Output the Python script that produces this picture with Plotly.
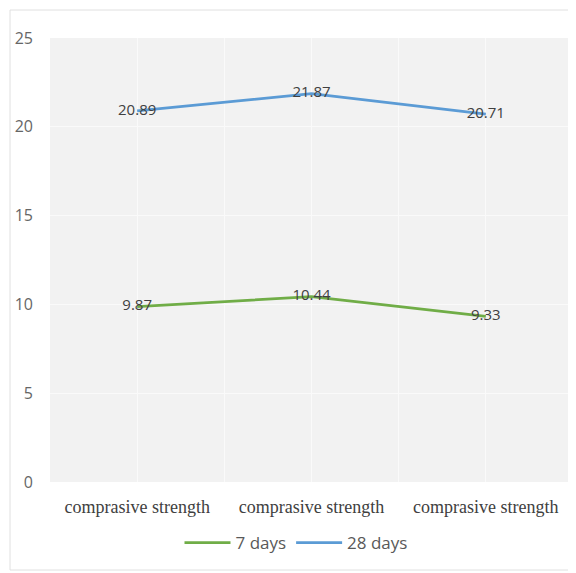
import plotly.graph_objects as go

categories = ["comprasive strength", "comprasive strength", "comprasive strength"]
days7 = [9.87, 10.44, 9.33]
days28 = [20.89, 21.87, 20.71]
y_ticks = [0, 5, 10, 15, 20, 25]

xpos = list(range(len(categories)))

fig = go.Figure()
fig.add_trace(go.Scatter(
    x=xpos, y=days7, name="7 days", mode="lines+text",
    line=dict(color="#70ad47", width=2.75),
    text=[f"{v:.2f}" for v in days7], textposition="middle center",
    textfont=dict(family="Open Sans, sans-serif", size=15, color="#404040"),
))
fig.add_trace(go.Scatter(
    x=xpos, y=days28, name="28 days", mode="lines+text",
    line=dict(color="#5b9bd5", width=2.75),
    text=[f"{v:.2f}" for v in days28], textposition="middle center",
    textfont=dict(family="Open Sans, sans-serif", size=15, color="#404040"),
))

# page body has an 8px margin, so the figure is shifted by 8px
OFF = 8
W, H = 568, 565
L = 50 - OFF
T = 38 - OFF
B = H - (482 - OFF)
R = W - (573 - OFF)
pw = W - L - R
ph = H - T - B

def py(y):
    return (ph - ((y - OFF) - T)) / ph

def px(x):
    return ((x - OFF) - L) / pw

fig.update_layout(
    width=W, height=H,
    margin=dict(l=L, r=R, t=T, b=B),
    paper_bgcolor="white",
    plot_bgcolor="#f2f2f2",
    showlegend=True,
    legend=dict(
        orientation="h", x=px(296), xanchor="center",
        y=py(543), yanchor="middle",
        font=dict(family="Open Sans, sans-serif", size=17, color="#595959"),
        itemwidth=46, traceorder="normal",
    ),
    xaxis=dict(
        range=[-0.5, len(categories) - 0.5],
        tickvals=xpos, ticktext=categories,
        tickfont=dict(family="Liberation Serif, serif", size=18, color="#404040"),
        showgrid=True, gridcolor="#fafafa", gridwidth=1,
        minor=dict(tickvals=[i - 0.5 for i in range(len(categories) + 1)],
                   showgrid=True, gridcolor="#fafafa", gridwidth=1),
        zeroline=False, showline=False, ticks="",
        ticklabelstandoff=12,
    ),
    yaxis=dict(
        range=[0, 25], tickvals=y_ticks,
        tickfont=dict(family="Open Sans, sans-serif", size=16, color="#666666"),
        showgrid=True, gridcolor="#fafafa", gridwidth=1,
        zeroline=False, showline=False, ticks="",
        ticklabelstandoff=16,
    ),
    shapes=[dict(
        type="rect", xref="paper", yref="paper",
        x0=px(10), x1=px(575),
        y0=py(570), y1=py(10),
        line=dict(color="#e0e0e0", width=1), fillcolor="rgba(0,0,0,0)",
        layer="below",
    )],
)

fig.write_html("out.html")
